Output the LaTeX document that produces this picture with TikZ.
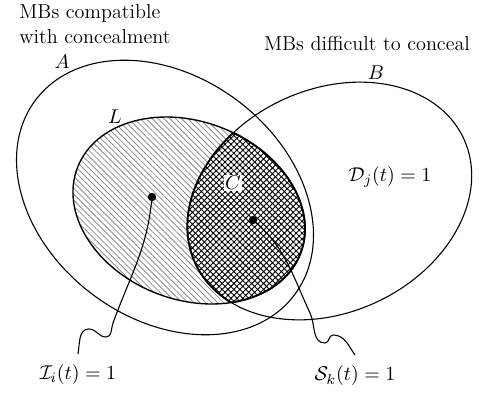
\documentclass[tikz,border=0pt]{standalone}
\usepackage{amsmath}
\usepackage{tikz}
\usetikzlibrary{patterns,patterns.meta,positioning}

\begin{document}
\begin{tikzpicture}[
    x=0.0193cm, y=0.0193cm,
    every node/.style={font=\fontsize{11.1}{13.4}\selectfont},
    setline/.style={line width=0.6pt},
    boldline/.style={line width=1pt},
    dot/.style={circle, fill=black, inner sep=0pt, minimum size=4.6pt},
    lbl/.style={inner sep=1pt, outer sep=5pt},
    wire/.style={line width=0.6pt}
]
\useasboundingbox (0,0) rectangle (479,393);

% Hatching
\fill[pattern={Lines[angle=-45,distance=2.3pt,line width=0.45pt]}, pattern color=gray!90,
      rotate around={-21:(189,182.5)}] (189,182.5) ellipse [x radius=119.5, y radius=89];
\begin{scope}
  \clip[rotate around={-21:(189,182.5)}] (189,182.5) ellipse [x radius=119.5, y radius=89];
  \fill[white, rotate around={25:(329.5,192)}] (329.5,192) ellipse [x radius=148, y radius=111.5];
  \fill[pattern={Hatch[angle=45,distance=2.3pt,line width=0.5pt]}, pattern color=black,
        rotate around={25:(329.5,192)}] (329.5,192) ellipse [x radius=148, y radius=111.5];
  \draw[boldline, rotate around={25:(329.5,192)}] (329.5,192) ellipse [x radius=148, y radius=111.5];
\end{scope}
\begin{scope}
  \clip[rotate around={25:(329.5,192)}] (329.5,192) ellipse [x radius=148, y radius=111.5];
  \draw[boldline, rotate around={-21:(189,182.5)}] (189,182.5) ellipse [x radius=119.5, y radius=89];
\end{scope}

% Sets
\draw[setline, rotate around={-37:(165,195.5)}] (165,195.5) ellipse [x radius=162, y radius=121];
\draw[setline, rotate around={25:(329.5,192)}] (329.5,192) ellipse [x radius=148, y radius=111.5];
\draw[line width=0.75pt, rotate around={-21:(189,182.5)}] (189,182.5) ellipse [x radius=119.5, y radius=89];

% Labels
\node[anchor=west, align=left, inner sep=0pt] (compat) at (19,369) {MBs compatible\\with concealment};
\node (difficult) at (367,350) {MBs difficult to conceal};
\node (labA) at (62,331) {$A$};
\node (labB) at (376,320) {$B$};
\node (labL) at (115,276) {$L$};
\node[fill=white, inner sep=0.5pt] (labC) at (233,210) {$C$};
\node (labD) at (390,216) {$\mathcal{D}_j(t)=1$};

% Points
\node[dot] (dotI) at (152,196) {};
\node[dot] (dotS) at (253,173) {};
\node[lbl] (lblI) at (78,18) {$\mathcal{I}_i(t)=1$};
\node[lbl] (lblS) at (355,17) {$\mathcal{S}_k(t)=1$};

% Wires
\draw[wire] (dotI.center) to[out=-95,in=70] (113,70) to[out=-110,in=0] (106,56)
    to[out=180,in=0] (89,64) to[out=180,in=80] (lblI.north);
\draw[wire] (dotS.center) to[out=-40,in=115] (310,80) to[out=-65,in=180] (325,50)
    to[out=0,in=180] (333,58) to[out=0,in=125] (lblS.north);

\end{tikzpicture}
\end{document}
